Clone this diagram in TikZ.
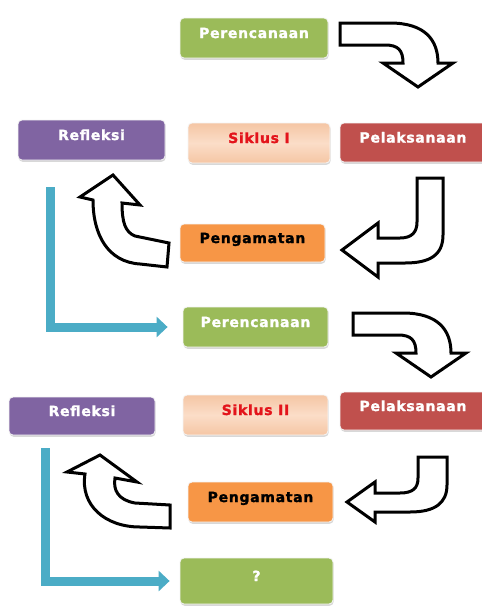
\documentclass[tikz,border=0pt]{standalone}
\usepackage{fontspec}
\newfontfamily\boxfont[LetterSpace=5, BoldFeatures={FakeBold=1.6}]{DejaVu Sans}
\usetikzlibrary{arrows.meta,shadows}
\definecolor{cgreen}{HTML}{9BBB59}
\definecolor{cpurple}{HTML}{8064A2}
\definecolor{cred}{HTML}{C0504D}
\definecolor{corange}{HTML}{F79646}
\definecolor{cpeach}{HTML}{F5C6A4}
\definecolor{cpeachl}{HTML}{FBDDC8}
\definecolor{cblue}{HTML}{4BACC6}
\definecolor{csred}{HTML}{E3141B}
\begin{document}
\begin{tikzpicture}[x=1pt,y=-1pt,
  box/.style={rounded corners=4pt, draw=white!92!gray, line width=0.8pt, inner sep=0pt,
    text height=10pt, text depth=10pt,
    font={\fontsize{14}{16}\selectfont\boxfont\bfseries}, text=white,
    drop shadow={shadow xshift=0.6pt, shadow yshift=-1.8pt, opacity=0.3}},
  peachbox/.style={box, top color=cpeach, bottom color=cpeach, middle color=cpeachl, text=csred},
  barrow/.style={draw=black, fill=white, line width=3pt, line join=miter},
  blueline/.style={cblue, line width=9pt, -{Triangle[length=11pt,width=20pt]}}]
\fill[white] (0,0) rectangle (482,606);
\useasboundingbox (0,0) rectangle (482,606);
% boxes
\node[box, fill=cgreen, minimum width=148pt, minimum height=40pt] (p1) at (254,38) {Perencanaan};
\node[box, fill=cpurple, minimum width=147pt, minimum height=40pt] (r1) at (91.5,140) {Refleksi};
\node[peachbox, minimum width=142pt, minimum height=40pt] (s1) at (259,143) {Siklus I};
\node[box, fill=cred, minimum width=146pt, minimum height=39pt] (l1) at (413,142.5) {Pelaksanaan};
\node[box, fill=corange, text=black, minimum width=145pt, minimum height=38pt] (g1) at (252.5,243) {Pengamatan};
\node[box, fill=cgreen, minimum width=145pt, minimum height=40pt] (p2) at (255.5,327) {Perencanaan};
\node[box, fill=cpurple, minimum width=146pt, minimum height=38pt] (r2) at (82,416) {Refleksi};
\node[peachbox, minimum width=145pt, minimum height=40pt] (s2) at (255.5,415) {Siklus II};
\node[box, fill=cred, minimum width=146pt, minimum height=38pt] (l2) at (413,411) {Pelaksanaan};
\node[box, fill=corange, text=black, minimum width=145pt, minimum height=40pt] (g2) at (260.5,502) {Pengamatan};
\node[box, fill=cgreen, minimum width=153pt, minimum height=46pt] (q) at (256.5,581) {?};
% block arrows
\draw[barrow] (340,23) -- (390,23) .. controls (425,23) and (438,40) .. (438,63)
  -- (453,63) -- (418,87) -- (383,63) -- (403,63) .. controls (403,50) and (398,45) .. (385,45)
  -- (340,45) -- cycle;
\draw[barrow] (353,313) -- (403,313) .. controls (438,313) and (451,330) .. (451,353)
  -- (466,353) -- (431,377) -- (396,353) -- (416,353) .. controls (416,340) and (411,335) .. (398,335)
  -- (353,335) -- cycle;
\draw[barrow] (417,178) -- (443,178) -- (443,235) .. controls (443,255) and (430,263) .. (405,263)
  -- (378,263) -- (378,277) -- (342,250) -- (378,223) -- (378,238) -- (400,238)
  .. controls (412,238) and (417,232) .. (417,222) -- cycle;
\draw[barrow] (418,457) -- (447,457) -- (447,485) .. controls (447,503) and (435,512) .. (410,512)
  -- (375,512) -- (375,522) -- (347,502) -- (375,482) -- (375,493) -- (400,493)
  .. controls (413,493) and (418,488) .. (418,478) -- cycle;
\draw[barrow] (169,243) -- (135,236) .. controls (125,232) and (122,222) .. (122,203)
  -- (140,205) -- (113,175) -- (80,197) -- (93,200) .. controls (93,235) and (108,262) .. (140,264)
  -- (167,267) -- cycle;
\draw[barrow] (170,505) -- (135,503) .. controls (118,500) and (113,490) .. (115,478)
  -- (137,482) -- (100,455) -- (67,472) -- (85,474) .. controls (80,505) and (105,527) .. (140,527)
  -- (170,528) -- cycle;
% blue connectors
\coordinate (b1) at (50,187);
\coordinate (b2) at (45,448);
\draw[blueline, shorten >=15pt] (b1) |- (p2.west);
\draw[blueline, shorten >=10pt] (b2) |- (q.west);
\end{tikzpicture}
\end{document}
